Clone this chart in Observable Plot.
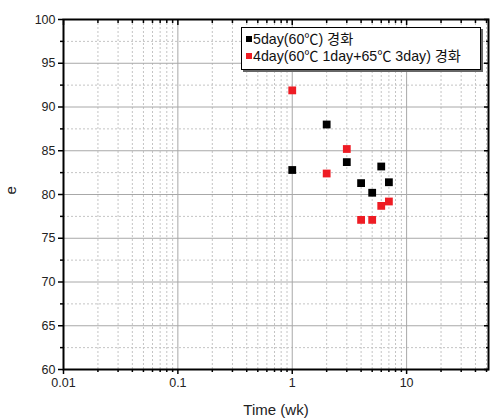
<!DOCTYPE html>
<html><head><meta charset="utf-8">
<script src="https://cdn.jsdelivr.net/npm/d3@7"></script>
<script src="https://cdn.jsdelivr.net/npm/@observablehq/plot@0.6"></script>
<style>
body{margin:0;background:#fff;}
#wrap{position:relative;width:492px;height:420px;}
#legend{position:absolute;left:241px;top:27px;width:240px;height:43px;border:1.5px solid #000;box-shadow:2px 2px 0 #666;background:#fff;font-family:"Liberation Sans",Arial,"Noto Sans CJK KR",sans-serif;font-size:14.2px;color:#111;box-sizing:border-box;padding:3px 0 0 4px;line-height:17px;white-space:nowrap;}
#legend div{height:17px;overflow:visible;}
#legend .sw{display:inline-block;width:6px;height:6px;margin-right:1px;vertical-align:2px;}
</style></head>
<body><div id="wrap"><div id="chart"></div>
<div id="legend"></div></div>
<script>
const time = [1, 2, 3, 4, 5, 6, 7];
const series5day = [82.8, 88.0, 83.7, 81.3, 80.2, 83.2, 81.4];
const series4day = [91.9, 82.4, 85.2, 77.1, 77.1, 78.7, 79.2];
const seriesNames = ["5day(60℃) 경화", "4day(60℃ 1day+65℃ 3day) 경화"];
const seriesColors = ["#000000", "#ee1c24"];
const xMajor = [0.01, 0.1, 1, 10];
const xMinor = [0.02,0.03,0.04,0.05,0.06,0.07,0.08,0.09,0.2,0.3,0.4,0.5,0.6,0.7,0.8,0.9,2,3,4,5,6,7,8,9,20,30,40,50];
const yMajor = [60, 65, 70, 75, 80, 85, 90, 95, 100];
const yMinor = [62.5, 67.5, 72.5, 77.5, 82.5, 87.5, 92.5, 97.5];

const data = [
  ...time.map((t, i) => ({t, v: series5day[i], s: seriesNames[0]})),
  ...time.map((t, i) => ({t, v: series4day[i], s: seriesNames[1]}))
];
const none = () => "";
const tk = {label: null, stroke: "#000", strokeWidth: 1.5};

const chart = Plot.plot({
  width: 492, height: 420,
  marginLeft: 63, marginRight: 4, marginTop: 19, marginBottom: 51,
  style: {fontFamily: '"Liberation Sans", Arial, sans-serif', fontSize: "12.5px", color: "#222", background: "#fff"},
  x: {type: "log", domain: [0.01, 52]},
  y: {domain: [60, 100]},
  color: {domain: seriesNames, range: seriesColors},
  marks: [
    Plot.gridX(xMinor, {stroke: "#c4c4c4", strokeOpacity: 1, strokeDasharray: "2,2"}),
    Plot.gridY(yMinor, {stroke: "#c4c4c4", strokeOpacity: 1, strokeDasharray: "2,2"}),
    Plot.gridX(xMajor, {stroke: "#a8a8a8", strokeOpacity: 1}),
    Plot.gridY(yMajor, {stroke: "#a8a8a8", strokeOpacity: 1}),
    Plot.axisX(xMajor, {...tk, tickSize: 5, tickPadding: 4, tickFormat: d => String(d)}),
    Plot.axisX(xMinor, {...tk, tickSize: 3, tickFormat: none}),
    Plot.axisX(xMajor, {...tk, anchor: "top", tickSize: -5, tickFormat: none}),
    Plot.axisX(xMinor, {...tk, anchor: "top", tickSize: -3, tickFormat: none}),
    Plot.axisY(yMajor, {...tk, tickSize: 5, tickPadding: 3}),
    Plot.axisY(yMinor, {...tk, tickSize: 3, tickFormat: none}),
    Plot.axisY(yMajor, {...tk, anchor: "right", tickSize: -5, tickFormat: none}),
    Plot.axisY(yMinor, {...tk, anchor: "right", tickSize: -3, tickFormat: none}),
    Plot.frame({stroke: "#000", strokeWidth: 2}),
    Plot.dot(data, {x: "t", y: "v", fill: "s", symbol: "square", r: 4.4}),
    Plot.text(["Time (wk)"], {frameAnchor: "bottom", dy: 45, fontSize: 15, fill: "#222"}),
    Plot.text(["e"], {frameAnchor: "left", dx: -52, rotate: -90, fontSize: 15, fill: "#222"})
  ]
});
document.getElementById("chart").appendChild(chart);
const lg = document.getElementById("legend");
seriesNames.forEach((n, i) => {
  const row = document.createElement("div");
  row.innerHTML = `<span class="sw" style="background:${seriesColors[i]}"></span>${n}`;
  lg.appendChild(row);
});
</script></body></html>
